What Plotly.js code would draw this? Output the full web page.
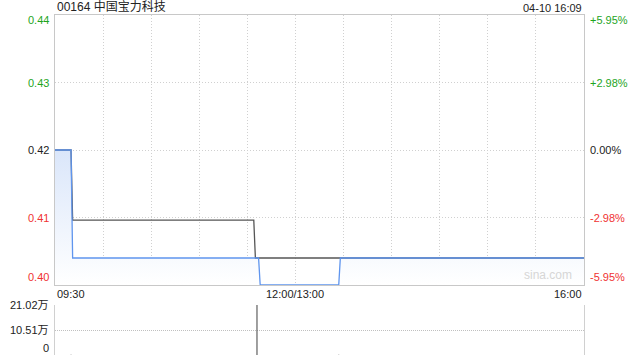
<!DOCTYPE html>
<html>
<head>
<meta charset="utf-8">
<script src="https://cdn.plot.ly/plotly-3.0.1.min.js"></script>
<style>html,body{margin:0;padding:0;background:#fff;}#chart{width:640px;height:360px;}</style>
</head>
<body>
<div id="chart"></div>
<script>
// ---- data ----
const stockTitle = '00164 中国宝力科技';
const stampText = '04-10 16:09';
const prevClose = 0.42;
const priceTimes = ['09:30','09:40','09:41','11:37','11:38','13:27','13:28','16:00'];
const priceValues = [0.42, 0.42, 0.400, 0.400, 0.395, 0.395, 0.400, 0.400];
const avgTimes = ['09:30','09:40','09:41','11:34','11:35','16:00'];
const avgValues = [0.42, 0.42, 0.407, 0.407, 0.400, 0.400];
const volTimes = ['09:40','11:36','13:27'];
const volValues = [1500, 210200, 1200];
const priceTickVals = [0.395, 0.4075, 0.42, 0.4325, 0.445];
const priceTickText = ['0.40', '0.41', '0.42', '0.43', '0.44'];
const pctTickText = ['-5.95%', '-2.98%', '0.00%', '+2.98%', '+5.95%'];
const volTickVals = [0, 105100, 210200];
const volTickText = ['0', '10.51万', '21.02万'];
const timeTickVals = ['09:30', '12:00', '16:00'];
const timeTickText = ['09:30', '12:00/13:00', '16:00'];
const gridTimes = ['09:30','10:00','10:30','11:00','11:30','12:00','13:30','14:00','14:30','15:00','15:30','16:00'];

// trading-minute index: 09:30-12:00 then 13:00-16:00
function tm(t){
  const [h,m] = t.split(':').map(Number);
  const mins = h*60+m;
  if (mins <= 12*60) return mins - (9*60+30);
  return 150 + (mins - 13*60);
}

const GREEN = '#1ea51e', RED = '#f03232', DARK = '#222';
const FONT = 'Liberation Sans, Arial, Noto Sans CJK SC, sans-serif';
function colorFor(v){ return v > prevClose + 1e-9 ? GREEN : (v < prevClose - 1e-9 ? RED : DARK); }

const px = priceTimes.map(tm), ax = avgTimes.map(tm);

const traces = [
  { x: px, y: priceValues, type: 'scatter', mode: 'lines', line: {width: 0, color: 'rgba(0,0,0,0)'},
    fill: 'tozeroy', fillcolor: 'rgba(220,232,250,0.8)',
    fillgradient: {type: 'vertical', start: 0.395, stop: 0.42, colorscale: [[0, 'rgba(255,255,255,1)'], [1, 'rgba(218,230,250,1)']]},
    hoverinfo: 'skip', xaxis: 'x', yaxis: 'y' },
  { x: ax, y: avgValues, type: 'scatter', mode: 'lines', line: {width: 1.3, color: '#555'}, xaxis: 'x', yaxis: 'y' },
  { x: px, y: priceValues, type: 'scatter', mode: 'lines', line: {width: 1.3, color: '#5f95ee'}, xaxis: 'x', yaxis: 'y' },
  { x: volTimes.map(tm), y: volValues, type: 'bar', width: 0.7, marker: {color: '#555', line: {width: 0}}, xaxis: 'x2', yaxis: 'y2' }
];

const annotations = [];
annotations.push({text: stockTitle, xref: 'paper', yref: 'paper', x: 0, y: 1, xanchor: 'left', yanchor: 'bottom', yshift: -1, showarrow: false, font: {size: 12, color: '#222', family: FONT}});
annotations.push({text: stampText, xref: 'paper', yref: 'paper', x: 1, y: 1, xanchor: 'right', yanchor: 'bottom', yshift: -1, showarrow: false, font: {size: 11, color: '#222', family: FONT}});
priceTickVals.forEach((v, i) => {
  const shift = i === 0 ? 8 : (i === priceTickVals.length - 1 ? -5 : 0);
  const c = colorFor(v);
  annotations.push({text: priceTickText[i], xref: 'paper', yref: 'y', x: 0, y: v, xanchor: 'right', yanchor: 'middle', xshift: -4, yshift: shift, showarrow: false, font: {size: 11, color: c, family: FONT}});
  annotations.push({text: pctTickText[i], xref: 'paper', yref: 'y', x: 1, y: v, xanchor: 'left', yanchor: 'middle', xshift: 4, yshift: shift, showarrow: false, font: {size: 11, color: c, family: FONT}});
});
timeTickVals.forEach((t, i) => {
  const anchor = i === 0 ? 'left' : (i === timeTickVals.length - 1 ? 'right' : 'center');
  annotations.push({text: timeTickText[i], xref: 'x', yref: 'paper', x: tm(t), y: 0.2059, xanchor: anchor, yanchor: 'top', yshift: -1, showarrow: false, font: {size: 11, color: '#222', family: FONT}});
});
volTickVals.forEach((v, i) => {
  annotations.push({text: volTickText[i], xref: 'paper', yref: 'y2', x: 0, y: v, xanchor: 'right', yanchor: 'middle', xshift: -4, yshift: i === 0 ? 7 : 0, showarrow: false, font: {size: 11, color: '#222', family: FONT}});
});
annotations.push({text: 'sina.com', xref: 'paper', yref: 'y', x: 1, y: 0.395, xanchor: 'right', yanchor: 'bottom', xshift: -10, yshift: 1, showarrow: false, font: {size: 12, color: '#d6d6d6', family: FONT}});

const layout = {
  width: 640, height: 360,
  margin: {l: 55, r: 56, t: 15, b: 5},
  paper_bgcolor: '#fff', plot_bgcolor: '#fff',
  showlegend: false,
  font: {family: FONT, size: 11},
  xaxis: { domain: [0, 1], range: [0, 330], tickvals: gridTimes.map(tm), showticklabels: false, ticks: '',
    showgrid: true, gridcolor: '#d0d0d0', griddash: '1px,2px', gridwidth: 1,
    showline: true, linecolor: '#c8c8c8', linewidth: 1, mirror: true, zeroline: false, anchor: 'y', fixedrange: true },
  yaxis: { domain: [0.2059, 1], range: [0.395, 0.445], tickvals: priceTickVals, showticklabels: false, ticks: '',
    showgrid: true, gridcolor: '#d0d0d0', griddash: '1px,2px', gridwidth: 1,
    showline: true, linecolor: '#c8c8c8', linewidth: 1, mirror: true, zeroline: false, anchor: 'x' },
  xaxis2: { domain: [0, 1], range: [0, 330], showticklabels: false, ticks: '', showgrid: false,
    showline: false, zeroline: false, anchor: 'y2' },
  yaxis2: { domain: [0, 0.147], range: [0, 210200], tickvals: volTickVals, showticklabels: false, ticks: '',
    showgrid: true, gridcolor: '#c0c0c0', griddash: '1px,1px', gridwidth: 1,
    showline: true, linecolor: '#d0d0d0', linewidth: 1, mirror: true, zeroline: false, anchor: 'x2' },
  annotations: annotations
};

Plotly.newPlot('chart', traces, layout, {staticPlot: true, displayModeBar: false});
</script>
</body>
</html>
